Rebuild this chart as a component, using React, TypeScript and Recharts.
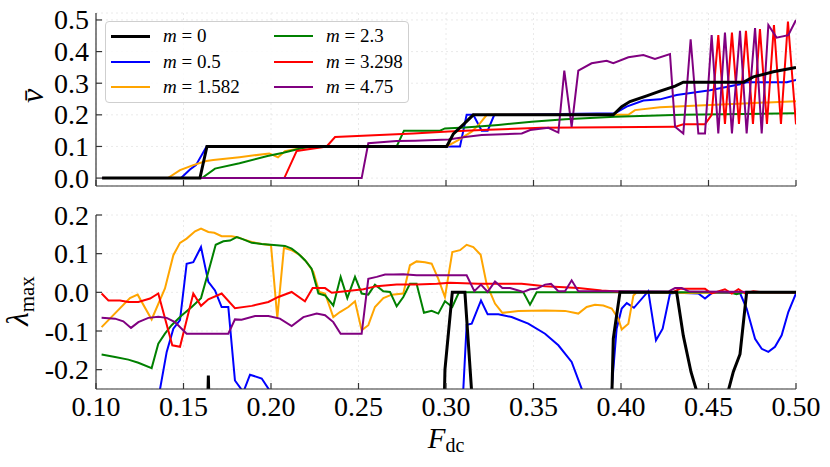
import { LineChart, Line, XAxis, YAxis, CartesianGrid } from "recharts";

// F_dc ticks shared by both panels
const FDC_TICKS = [0.1, 0.15, 0.2, 0.25, 0.3, 0.35, 0.4, 0.45, 0.5];
const V_TICKS = [0, 0.1, 0.2, 0.3, 0.4, 0.5];
const LAMBDA_TICKS = [-0.2, -0.1, 0, 0.1, 0.2];

// mean velocity v-bar, [F_dc, v]
const vM0 = [[0.1035,0],[0.1594,0],[0.1634,0.1],[0.3004,0.1],[0.3042,0.14],[0.31,0.17],[0.3156,0.2],[0.3956,0.2],[0.4004,0.226],[0.4051,0.242],[0.4147,0.26],[0.4223,0.275],[0.4309,0.291],[0.4356,0.303],[0.4699,0.303],[0.4756,0.32],[0.487,0.336],[0.5,0.35]];
const vM05 = [[0.1035,0],[0.1486,0],[0.1537,0.027],[0.1571,0.041],[0.1632,0.1],[0.3004,0.1],[0.308,0.1],[0.3118,0.2],[0.3156,0.2],[0.3204,0.15],[0.3238,0.15],[0.3276,0.2],[0.3966,0.205],[0.4032,0.226],[0.4128,0.245],[0.4223,0.249],[0.4318,0.263],[0.4509,0.278],[0.468,0.297],[0.4718,0.303],[0.4947,0.303],[0.5,0.31]];
const vM1582 = [[0.1035,0],[0.1411,0],[0.148,0.025],[0.1556,0.041],[0.163,0.054],[0.167,0.057],[0.182,0.066],[0.199,0.078],[0.204,0.066],[0.208,0.085],[0.222,0.1],[0.3004,0.1],[0.307,0.12],[0.3147,0.147],[0.3194,0.173],[0.3233,0.2],[0.3956,0.2],[0.4042,0.2],[0.408,0.215],[0.4223,0.224],[0.4413,0.229],[0.47,0.236],[0.5,0.243]];
const vM23 = [[0.1035,0],[0.1606,0],[0.168,0.03],[0.182,0.047],[0.198,0.07],[0.207,0.08],[0.218,0.095],[0.224,0.1],[0.2718,0.1],[0.276,0.15],[0.2966,0.15],[0.2994,0.157],[0.3109,0.16],[0.3299,0.168],[0.349,0.178],[0.368,0.186],[0.3966,0.194],[0.4347,0.2],[0.5,0.205]];
const vM3298 = [[0.1035,0],[0.2076,0],[0.2147,0.086],[0.2318,0.1],[0.2366,0.13],[0.262,0.136],[0.2813,0.141],[0.3014,0.147],[0.3204,0.152],[0.3547,0.159],[0.4309,0.162],[0.4356,0.17],[0.448,0.17],[0.4518,0.2],[0.4556,0.452],[0.4594,0.171],[0.4634,0.46],[0.4674,0.171],[0.4714,0.466],[0.4754,0.171],[0.4794,0.471],[0.4834,0.171],[0.4874,0.484],[0.4914,0.171],[0.4954,0.495],[0.5,0.17]];
const vM475 = [[0.1035,0],[0.2518,0],[0.2556,0.11],[0.2718,0.117],[0.2823,0.118],[0.3014,0.122],[0.3109,0.13],[0.3204,0.136],[0.3433,0.141],[0.3481,0.152],[0.3585,0.159],[0.3642,0.144],[0.3676,0.34],[0.3718,0.162],[0.3756,0.34],[0.3832,0.363],[0.3918,0.371],[0.3956,0.363],[0.4042,0.382],[0.4128,0.389],[0.4194,0.377],[0.428,0.392],[0.4309,0.162],[0.4356,0.141],[0.4398,0.439],[0.4442,0.141],[0.448,0.141],[0.4518,0.452],[0.4556,0.141],[0.4594,0.46],[0.4634,0.141],[0.468,0.466],[0.4718,0.141],[0.4766,0.474],[0.4804,0.141],[0.4842,0.484],[0.4889,0.444],[0.4956,0.452],[0.5,0.5]];

// largest Lyapunov exponent, [F_dc, lambda]; values below -0.25 run off the panel
const lamM0 = [[0.1035,-1],[0.1604,-1],[0.1642,-0.215],[0.168,-1],[0.2956,-1],[0.2994,-0.2],[0.3036,0],[0.3108,0],[0.3147,-0.26],[0.3185,-1],[0.3918,-0.8],[0.3956,-0.12],[0.3994,0],[0.4318,0],[0.4356,-0.112],[0.44,-0.206],[0.4442,-0.27],[0.448,-0.33],[0.4566,-0.33],[0.4604,-0.27],[0.4642,-0.205],[0.468,-0.16],[0.4718,0],[0.5,0]];
const lamM05 = [[0.1035,-0.5],[0.13,-0.4],[0.1366,-0.25],[0.1404,-0.154],[0.1442,-0.094],[0.148,-0.072],[0.1518,0.074],[0.1556,0.078],[0.16,0.117],[0.1642,0.027],[0.168,0.005],[0.1718,-0.038],[0.1756,-0.038],[0.1794,-0.228],[0.1842,-0.258],[0.188,-0.213],[0.1947,-0.223],[0.1985,-0.249],[0.2023,-0.27],[0.22,-0.4],[0.25,-0.6],[0.29,-0.5],[0.306,-0.35],[0.3099,-0.25],[0.3118,-0.084],[0.3147,-0.081],[0.32,-0.021],[0.3238,-0.057],[0.3299,-0.057],[0.3375,-0.064],[0.347,-0.081],[0.3566,-0.107],[0.3642,-0.137],[0.3718,-0.18],[0.3775,-0.249],[0.383,-0.33],[0.39,-0.45],[0.3947,-0.25],[0.3975,-0.094],[0.4004,-0.042],[0.4033,-0.028],[0.4074,-0.04],[0.4156,0.003],[0.42,-0.124],[0.4238,-0.094],[0.428,-0.003],[0.4318,-0.001],[0.4442,-0.003],[0.448,-0.016],[0.4518,-0.002],[0.468,-0.002],[0.4718,-0.042],[0.4766,-0.12],[0.4804,-0.146],[0.4842,-0.154],[0.488,-0.141],[0.4918,-0.111],[0.4956,-0.051],[0.5,-0.003]];
const lamM1582 = [[0.1032,-0.09],[0.1194,-0.015],[0.1238,-0.006],[0.1318,-0.07],[0.1394,0.01],[0.1442,0.096],[0.148,0.128],[0.1518,0.139],[0.1566,0.158],[0.16,0.165],[0.1642,0.156],[0.1676,0.154],[0.1718,0.145],[0.1775,0.145],[0.1813,0.142],[0.1842,0.137],[0.189,0.13],[0.1947,0.125],[0.2,0.122],[0.2036,-0.066],[0.2074,0.115],[0.2118,0.109],[0.2166,0.096],[0.2204,0.078],[0.2242,0.053],[0.2276,0.001],[0.2309,-0.003],[0.2356,-0.064],[0.2394,-0.051],[0.2442,-0.038],[0.248,-0.023],[0.2518,-0.098],[0.2556,-0.085],[0.2594,-0.038],[0.2642,-0.015],[0.269,-0.006],[0.2756,-0.003],[0.2794,0.07],[0.2832,0.08],[0.288,0.078],[0.2918,0.074],[0.2956,0.035],[0.2994,-0.012],[0.3036,0.104],[0.308,0.109],[0.3118,0.123],[0.3156,0.117],[0.3198,0.097],[0.3232,0.022],[0.328,-0.029],[0.3322,-0.053],[0.3413,-0.048],[0.3566,-0.047],[0.368,-0.048],[0.3756,-0.055],[0.3804,-0.038],[0.3851,-0.032],[0.3899,-0.034],[0.3947,-0.042],[0.3985,-0.068],[0.4004,-0.096],[0.4042,-0.081],[0.4071,-0.008],[0.409,0],[0.44,-0.002],[0.47,0],[0.5,0]];
const lamM23 = [[0.1032,-0.161],[0.1109,-0.167],[0.1185,-0.174],[0.1242,-0.182],[0.1318,-0.196],[0.1356,-0.133],[0.1394,-0.107],[0.1432,-0.085],[0.1489,-0.06],[0.1547,-0.038],[0.16,-0.015],[0.1642,0.053],[0.1684,0.123],[0.1728,0.132],[0.1766,0.134],[0.1804,0.143],[0.1842,0.137],[0.189,0.128],[0.1947,0.125],[0.2033,0.1216],[0.208,0.12],[0.2118,0.113],[0.2156,0.1],[0.2194,0.083],[0.2232,0.061],[0.2271,-0.003],[0.2309,-0.008],[0.2356,-0.034],[0.2398,0.04],[0.2436,-0.015],[0.248,0.04],[0.2518,-0.003],[0.2556,-0.006],[0.2594,0.02],[0.2642,0.003],[0.268,0.001],[0.2718,-0.036],[0.2756,-0.012],[0.2794,0.022],[0.2832,0.022],[0.2874,-0.053],[0.2918,-0.048],[0.2956,-0.055],[0.2994,-0.023],[0.3036,-0.038],[0.3074,0],[0.3442,0],[0.348,-0.032],[0.3518,0],[0.462,0],[0.466,-0.005],[0.47,0],[0.5,0]];
const lamM3298 = [[0.1032,-0.003],[0.1071,-0.021],[0.1137,-0.021],[0.1185,-0.025],[0.1242,-0.025],[0.1309,-0.016],[0.1356,-0.003],[0.1436,-0.137],[0.148,-0.141],[0.1556,-0.003],[0.16,-0.035],[0.1642,-0.018],[0.1718,-0.003],[0.1794,-0.041],[0.189,-0.035],[0.1985,-0.025],[0.2042,-0.012],[0.2118,0.001],[0.2194,-0.023],[0.2238,0.011],[0.2309,0.011],[0.2347,-0.001],[0.2528,0.008],[0.2604,0.016],[0.2718,0.02],[0.2832,0.02],[0.2947,0.022],[0.3023,0.025],[0.3185,0.022],[0.3432,0.022],[0.3566,0.016],[0.3756,0.011],[0.3889,0.005],[0.4023,0.001],[0.43,0.001],[0.4337,0.009],[0.448,0.009],[0.4518,-0.003],[0.4594,0.008],[0.4633,-0.003],[0.4671,0.008],[0.471,-0.003],[0.4756,0.003],[0.48,0],[0.5,0]];
const lamM475 = [[0.1032,-0.066],[0.1109,-0.068],[0.1156,-0.075],[0.12,-0.092],[0.1242,-0.077],[0.1299,-0.066],[0.1356,-0.063],[0.1404,-0.066],[0.1451,-0.077],[0.1518,-0.107],[0.1756,-0.107],[0.1794,-0.07],[0.1832,-0.071],[0.1909,-0.061],[0.1985,-0.061],[0.2051,-0.068],[0.2118,-0.087],[0.2185,-0.064],[0.2261,-0.055],[0.2309,-0.059],[0.2356,-0.077],[0.2398,-0.107],[0.2518,-0.107],[0.2556,0.035],[0.2604,0.04],[0.2652,0.046],[0.27,0.046],[0.2756,0.047],[0.2832,0.044],[0.3118,0.044],[0.3162,0.003],[0.32,0.02],[0.3238,0.001],[0.328,0.028],[0.3322,0.011],[0.3366,0.011],[0.3442,0.001],[0.348,0.008],[0.3518,0.009],[0.3566,0.02],[0.36,0.022],[0.3642,0.003],[0.368,0.003],[0.3718,0.031],[0.3756,0.003],[0.4023,0.003],[0.427,0.002],[0.4309,0.011],[0.4347,0.011],[0.439,0.002],[0.5,0]];

const M_LABELS = ["0", "0.5", "1.582", "2.3", "3.298", "4.75"];
const COLORS = ["#000000", "#0000ff", "#ffa500", "#008000", "#ff0000", "#800080"];

const SERIES = [
  { m: M_LABELS[0], color: COLORS[0], width: 3, v: vM0, lam: lamM0 },
  { m: M_LABELS[1], color: COLORS[1], width: 2, v: vM05, lam: lamM05 },
  { m: M_LABELS[2], color: COLORS[2], width: 2, v: vM1582, lam: lamM1582 },
  { m: M_LABELS[3], color: COLORS[3], width: 2, v: vM23, lam: lamM23 },
  { m: M_LABELS[4], color: COLORS[4], width: 2, v: vM3298, lam: lamM3298 },
  { m: M_LABELS[5], color: COLORS[5], width: 2, v: vM475, lam: lamM475 },
];
// black drawn last so it sits on top
const DRAW_ORDER = [1, 2, 3, 4, 5, 0];

const FONT = "Liberation Serif, DejaVu Serif, serif";
const AX = "#333";
const txt = { fontFamily: FONT, fill: "#000" };
const toPts = (arr: number[][]) => arr.map(([x, y]) => ({ x, y }));
const fmt1 = (v: number) => (v < 0 ? "-" : "") + Math.abs(v).toFixed(1);
const fmt2 = (v: number) => v.toFixed(2);

const BottomTick = ({ x, y, payload, label }: any) => (
  <g>
    <line x1={x} x2={x} y1={y} y2={y - 6} stroke={AX} strokeWidth={1.2} />
    {label && (
      <text x={x} y={y + 27} textAnchor="middle" fontSize={28} style={txt}>
        {fmt2(payload.value)}
      </text>
    )}
  </g>
);
const TopTick = ({ x, y }: any) => <line x1={x} x2={x} y1={y} y2={y + 6} stroke={AX} strokeWidth={1.2} />;
const LeftTick = ({ x, y, payload }: any) => (
  <g>
    <line x1={x} x2={x + 6} y1={y} y2={y} stroke={AX} strokeWidth={1.2} />
    <text x={x - 7} y={y} dy="0.34em" textAnchor="end" fontSize={28} style={txt}>
      {fmt1(payload.value)}
    </text>
  </g>
);
const RightTick = ({ x, y }: any) => <line x1={x - 6} x2={x} y1={y} y2={y} stroke={AX} strokeWidth={1.2} />;

function Panel({ height, margin, yDomain, yTicks, field, xHeight, labels }: any) {
  return (
    <LineChart width={830} height={height} margin={margin}>
      <CartesianGrid stroke="#e4e4e4" strokeDasharray="2 3" strokeWidth={0.8} />
      <XAxis type="number" dataKey="x" domain={[0.1, 0.5]} ticks={FDC_TICKS} allowDataOverflow
        height={xHeight} tickSize={0} tickMargin={0} stroke={AX} strokeWidth={1.2}
        tick={(p: any) => <BottomTick {...p} label={labels} />} interval={0} />
      <XAxis xAxisId="top" orientation="top" type="number" domain={[0.1, 0.5]} ticks={FDC_TICKS}
        allowDataOverflow height={0} tickSize={0} tickMargin={0} stroke={AX} strokeWidth={1.2}
        tick={(p: any) => <TopTick {...p} />} interval={0} />
      <YAxis type="number" domain={yDomain} ticks={yTicks} allowDataOverflow width={96}
        tickSize={0} tickMargin={0} stroke={AX} strokeWidth={1.2}
        tick={(p: any) => <LeftTick {...p} />} interval={0} />
      <YAxis yAxisId="right" orientation="right" type="number" domain={yDomain} ticks={yTicks}
        allowDataOverflow width={0} tickSize={0} tickMargin={0} stroke={AX} strokeWidth={1.2}
        tick={(p: any) => <RightTick {...p} />} interval={0} />
      {DRAW_ORDER.map((i) => (
        <Line key={i} data={toPts(SERIES[i][field])} dataKey="y" type="linear" stroke={SERIES[i].color}
          strokeWidth={SERIES[i].width} dot={false} activeDot={false} isAnimationActive={false} />
      ))}
    </LineChart>
  );
}

const LEGEND_ROWS = [14, 39.5, 65];

export default function App() {
  return (
    <div style={{ position: "absolute", left: 0, top: 0, width: 830, height: 467, background: "#fff", fontFamily: FONT }}>
      <div style={{ position: "absolute", left: 0, top: 0 }}>
        <Panel height={200} margin={{ top: 13, right: 34, left: 0, bottom: 0 }} yDomain={[-0.025, 0.522]}
          yTicks={V_TICKS} field="v" xHeight={14} labels={false} />
      </div>
      <div style={{ position: "absolute", left: 0, top: 200 }}>
        <Panel height={267} margin={{ top: 15, right: 34, left: 0, bottom: 0 }} yDomain={[-0.25, 0.2]}
          yTicks={LAMBDA_TICKS} field="lam" xHeight={78} labels={true} />
      </div>

      <div style={{ position: "absolute", left: 105, top: 21, width: 302, height: 80, border: "1px solid #cfcfcf",
        borderRadius: 4, background: "rgba(255,255,255,0.85)" }}>
        {SERIES.map((s, i) => {
          const col = i < 3 ? 0 : 1;
          const top = LEGEND_ROWS[i % 3];
          const left = col === 0 ? 5 : 168;
          return (
            <div key={i} style={{ position: "absolute", left, top: top - 12, height: 24, display: "flex", alignItems: "center" }}>
              <div style={{ width: 39, height: s.width, background: s.color }} />
              <span style={{ marginLeft: 13, fontSize: 19, whiteSpace: "nowrap", lineHeight: "24px" }}>
                <i>m</i> = {s.m}
              </span>
            </div>
          );
        })}
      </div>

      <svg width={830} height={467} style={{ position: "absolute", left: 0, top: 0, pointerEvents: "none" }}>
        <text x={43} y={96} transform="rotate(-90 43 96)" textAnchor="middle" fontSize={32} fontStyle="italic" style={txt}>
          {"v\u0304"}
        </text>
        <text x={28} y={301} transform="rotate(-90 28 301)" textAnchor="middle" fontSize={31} style={txt}>
          <tspan fontStyle="italic">λ</tspan>
          <tspan fontSize={21} dy={6}>max</tspan>
        </text>
        <text x={446} y={448} textAnchor="middle" fontSize={29} style={txt}>
          <tspan fontStyle="italic">F</tspan>
          <tspan fontSize={20} dy={4}>dc</tspan>
        </text>
      </svg>
    </div>
  );
}
